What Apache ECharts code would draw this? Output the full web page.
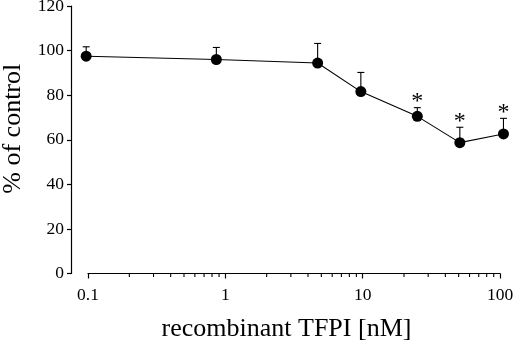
<!DOCTYPE html>
<html style="height: 100%">

<head>
	<meta charset="utf-8">
</head>

<body style="height: 100%; margin: 0; background: #fff">
	<div id="container" style="width: 520px; height: 342px"></div>
	<script type="text/javascript" src="https://cdn.jsdelivr.net/npm/echarts@6/dist/echarts.min.js"></script>
	<script type="text/javascript">
		// concentrations (nM) and % of control
		let conc = [0.097, 0.86, 4.7, 9.7, 25, 51, 106];
		let meanVal = [97.5, 96.0, 94.4, 81.6, 70.5, 58.7, 62.6];
		let errUp = [4.2, 5.4, 8.8, 8.6, 3.9, 6.9, 7.0];
		let signif = [false, false, false, false, true, true, true];
		let minorTicks = [0.2, 0.3, 0.4, 0.5, 0.6, 0.7, 0.8, 0.9,
			2, 3, 4, 5, 6, 7, 8, 9, 20, 30, 40, 50, 60, 70, 80, 90];
		let yTicks = [0, 20, 40, 60, 80, 100, 120];

		let font = '"Liberation Serif", "Times New Roman", serif';
		let dom = document.getElementById("container");
		let myChart = echarts.init(dom, null, { renderer: 'canvas' });

		let points = conc.map(function (c, i) { return [c, meanVal[i]]; });
		let errData = conc.map(function (c, i) { return [c, meanVal[i], errUp[i], signif[i] ? 1 : 0]; });

		let option = {
			animation: false,
			backgroundColor: '#fff',
			grid: { left: 88, right: 20, top: 6, bottom: 68.5, containLabel: false, outerBoundsMode: 'none' },
			xAxis: {
				type: 'log',
				logBase: 10,
				min: 0.1,
				max: 100,
				name: 'recombinant TFPI [nM]',
				nameLocation: 'middle',
				nameGap: 43,
				nameTextStyle: { fontFamily: font, fontSize: 26, color: '#000', padding: [0, 15, 0, 0] },
				axisLine: { lineStyle: { color: '#000', width: 1.2 } },
				axisTick: { inside: false, length: 5, lineStyle: { color: '#000', width: 1.2 } },
				axisLabel: { fontFamily: font, fontSize: 17.5, color: '#000', margin: 13 },
				splitLine: { show: false }
			},
			yAxis: {
				type: 'value',
				min: yTicks[0],
				max: yTicks[yTicks.length - 1],
				interval: 20,
				offset: 17,
				name: '% of control',
				nameLocation: 'middle',
				nameGap: 45,
				nameTextStyle: { fontFamily: font, fontSize: 26, color: '#000', padding: [0, 0, 0, 22] },
				axisLine: { show: true, lineStyle: { color: '#000', width: 1.2 } },
				axisTick: { show: true, length: 4, lineStyle: { color: '#000', width: 1.2 } },
				axisLabel: { fontFamily: font, fontSize: 17.5, color: '#000', margin: 7 },
				splitLine: { show: false }
			},
			series: [
				{
					// minor ticks of the log axis
					type: 'custom',
					clip: false,
					silent: true,
					data: minorTicks.map(function (v) { return [v, 0]; }),
					renderItem: function (params, api) {
						let p = api.coord([api.value(0), 0]);
						return {
							type: 'line',
							shape: { x1: p[0], y1: p[1], x2: p[0], y2: p[1] + 3.5 },
							style: { stroke: '#000', lineWidth: 1.1 }
						};
					}
				},
				{
					// upper error bars and significance stars
					type: 'custom',
					clip: false,
					silent: true,
					data: errData,
					renderItem: function (params, api) {
						let base = api.coord([api.value(0), api.value(1)]);
						let top = api.coord([api.value(0), api.value(1) + api.value(2)]);
						let children = [
							{
								type: 'line',
								shape: { x1: base[0], y1: base[1], x2: top[0], y2: top[1] },
								style: { stroke: '#000', lineWidth: 1.1 }
							},
							{
								type: 'line',
								shape: { x1: top[0] - 3.5, y1: top[1], x2: top[0] + 3.5, y2: top[1] },
								style: { stroke: '#000', lineWidth: 1.1 }
							}
						];
						if (api.value(3)) {
							children.push({
								type: 'text',
								style: {
									x: top[0], y: top[1] - 6,
									text: '*',
									font: '24px ' + font,
									fill: '#000',
									align: 'center',
									verticalAlign: 'middle'
								}
							});
						}
						return { type: 'group', children: children };
					}
				},
				{
					type: 'line',
					clip: false,
					data: points,
					symbol: 'circle',
					symbolSize: 11,
					itemStyle: { color: '#000' },
					lineStyle: { color: '#000', width: 1.1 },
					z: 5
				}
			]
		};

		myChart.setOption(option);
	</script>
</body>

</html>
